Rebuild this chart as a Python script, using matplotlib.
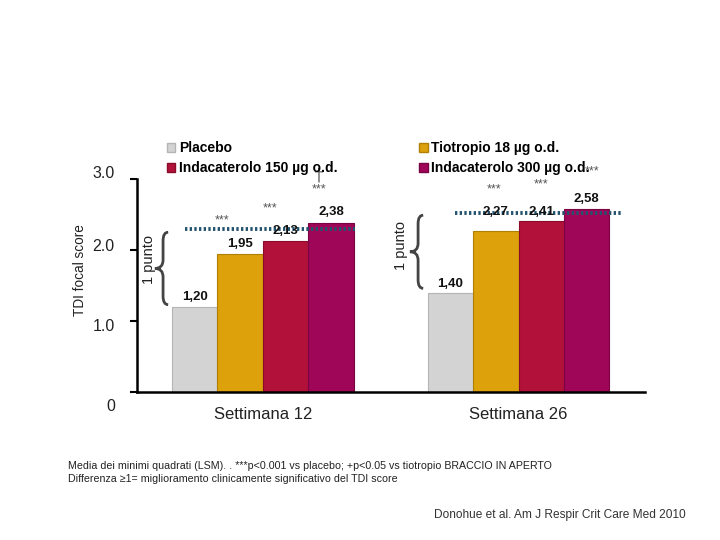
import matplotlib.pyplot as plt
from matplotlib.path import Path
from matplotlib.patches import PathPatch, Patch
from matplotlib.transforms import ScaledTranslation

plt.rcParams['font.family'] = ['Liberation Sans', 'DejaVu Sans']

# data
weeks = ["Settimana 12", "Settimana 26"]
treatments = ["Placebo", "Tiotropio 18 \u00b5g o.d.",
              "Indacaterolo 150 \u00b5g o.d.", "Indacaterolo 300 \u00b5g o.d."]
placebo = [1.20, 1.40]
tiotropio = [1.95, 2.27]
inda150 = [2.13, 2.41]
inda300 = [2.38, 2.58]
label_y = [[1.34, 2.08, 2.27, 2.54], [1.52, 2.54, 2.54, 2.72]]
star_y = [[None, 2.42, 2.59, 2.85], [None, 2.86, 2.93, 3.10]]
dagger_y = 3.04
mcid_line = [2.30, 2.52]

colors = ["#d3d3d3", "#dca10b", "#b21139", "#9f0657"]
edges = ["#b5b5b5", "#b07f05", "#8a0a2a", "#7a0343"]

fig = plt.figure(figsize=(7.2, 5.4), dpi=100)
ax = fig.add_axes([137 / 720, 148 / 540, 508 / 720, 213 / 540])

series = [placebo, tiotropio, inda150, inda300]
width = 0.178
star_dx = [[0, -0.07, -0.063, -0.047], [0, -0.008, 0, 0.02]]
for i, vals in enumerate(series):
    xs = [g + (i - 1.5) * width for g in range(len(weeks))]
    ax.bar(xs, vals, width, color=colors[i], edgecolor=edges[i],
           linewidth=0.8, zorder=2)
    for g, v in enumerate(vals):
        ax.text(xs[g], label_y[g][i], f"{v:.2f}".replace(".", ","),
                ha="center", va="center", fontsize=9.5, fontweight="bold",
                color="#111111", zorder=4)
        if star_y[g][i] is not None:
            ax.text(xs[g] + star_dx[g][i], star_y[g][i], "***", ha="center",
                    va="center", fontsize=9, color="#555555", clip_on=False)

# dagger over indacaterolo 300 week 12
ax.text(1.5 * width - 0.047, dagger_y, "\u2020", ha="center", va="center",
        fontsize=13, color="#555555", clip_on=False)

# MCID dotted lines
line_x = [(-0.305, 0.36), (0.751, 1.405)]
for g in range(len(weeks)):
    ax.plot(line_x[g], [mcid_line[g]] * 2, linestyle=(0, (0.6, 0.6)),
            color="#24536f", linewidth=2.8, zorder=3, solid_capstyle="butt")


def brace(x, y0, y1, d=0.032, h=0.02, r=0.12):
    ym = (y0 + y1) / 2
    verts = [(x + h, y1), (x, y1), (x, y1 - r), (x, ym + r), (x, ym),
             (x - d, ym), (x, ym), (x, ym - r), (x, y0 + r), (x, y0),
             (x + h, y0)]
    codes = [Path.MOVETO, Path.CURVE3, Path.CURVE3, Path.LINETO,
             Path.CURVE3, Path.CURVE3, Path.CURVE3, Path.CURVE3,
             Path.LINETO, Path.CURVE3, Path.CURVE3]
    ax.add_patch(PathPatch(Path(verts, codes), fill=False, lw=2.0,
                           edgecolor="#444444", clip_on=False))


brace(-0.391, placebo[0] + 0.03, mcid_line[0] - 0.05)
brace(0.607, placebo[1] + 0.06, mcid_line[1] - 0.03)
ax.text(-0.446, 1.86, "1 punto", rotation=90, ha="center", va="center",
        fontsize=10.5, color="#222222")
ax.text(0.54, 2.06, "1 punto", rotation=90, ha="center", va="center",
        fontsize=10.5, color="#222222")

ax.set_xlim(-0.493, 1.495)
ax.set_ylim(0, 3)
ax.set_yticks([0, 1, 2, 3])
ax.set_yticklabels(["0", "1.0", "2.0", "3.0"])
ax.set_xticks(range(len(weeks)))
ax.set_xticklabels(weeks)
ax.tick_params(axis="y", length=5, width=1.5, pad=11, labelsize=11.5,
               labelcolor="#222222")
ax.tick_params(axis="x", length=0, pad=11, labelsize=12, labelcolor="#222222")
# the original tick labels sit slightly off their ticks
label_shift = [-13, -4, 5, 7]
for lab, dy in zip(ax.get_yticklabels(), label_shift):
    lab.set_transform(lab.get_transform()
                      + ScaledTranslation(0, dy / 100, fig.dpi_scale_trans))
for s in ["top", "right"]:
    ax.spines[s].set_visible(False)
ax.spines["left"].set_linewidth(1.8)
ax.spines["bottom"].set_linewidth(1.8)
ax.set_ylabel("TDI focal score", fontsize=9.8, color="#222222")
ax.yaxis.set_label_coords(-50 / 508, 0.573)

handles = [Patch(facecolor=colors[i], edgecolor=edges[i]) for i in [0, 2, 1, 3]]
labels = [treatments[i] for i in [0, 2, 1, 3]]
fig.legend(handles, labels, ncol=2, loc="upper left",
           bbox_to_anchor=(167 / 720, 1 - 141 / 540), frameon=False,
           prop={"weight": "bold", "size": 10}, handlelength=0.6,
           handleheight=0.6, handletextpad=0.25, labelspacing=0.45,
           columnspacing=5.9, borderaxespad=0, borderpad=0)

fig.text(68 / 720, 1 - 466 / 540,
         "Media dei minimi quadrati (LSM). . ***p<0.001 vs placebo; +p<0.05 "
         "vs tiotropio BRACCIO IN APERTO", fontsize=7.7, color="#222222",
         va="center")
fig.text(68 / 720, 1 - 479 / 540,
         "Differenza \u22651= miglioramento clinicamente significativo del "
         "TDI score", fontsize=7.7, color="#222222", va="center")
fig.text(686 / 720, 1 - 515 / 540,
         "Donohue et al. Am J Respir Crit Care Med 2010", fontsize=8.6,
         color="#333333", ha="right", va="center")

fig.savefig("out.png", dpi=100)
